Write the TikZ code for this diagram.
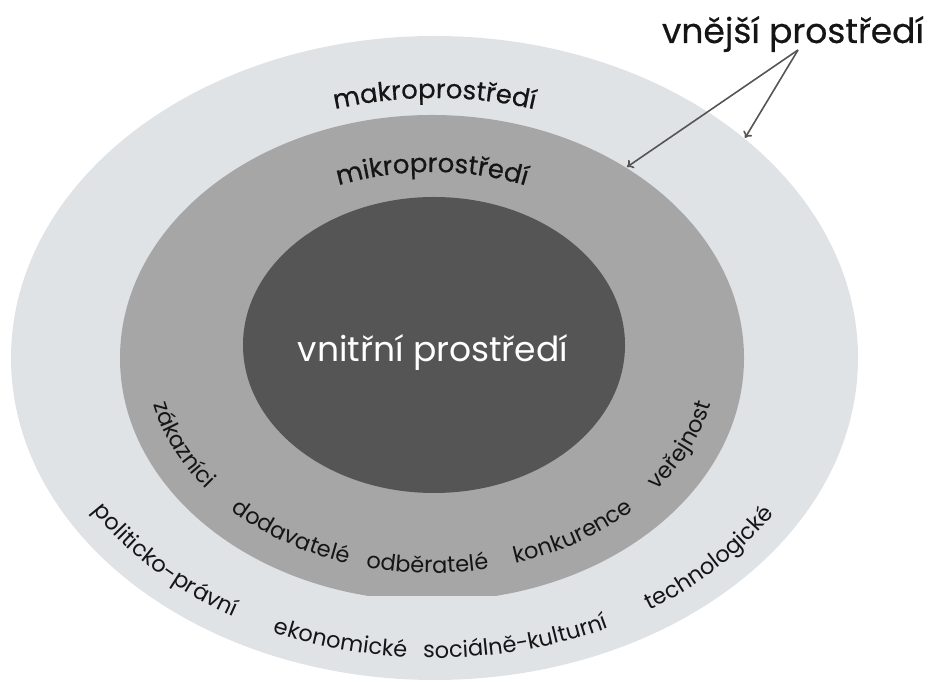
\documentclass[tikz,border=0pt]{standalone}
\usepackage{fontspec}
\setmainfont{Poppins}
\newfontfamily\medfont{Poppins}[FakeBold=0.5]
\usetikzlibrary{decorations.text,arrows.meta,calc}
\definecolor{outerc}{HTML}{E0E3E6}
\definecolor{midc}{HTML}{A6A6A6}
\definecolor{innerc}{HTML}{555555}
\definecolor{arrowc}{HTML}{555555}
\definecolor{txtc}{HTML}{151515}
\newcommand{\ringfont}{\fontsize{22.5}{22.5}\selectfont}
\newcommand{\labfont}{\medfont\fontsize{26}{26}\selectfont}
\tikzset{
  curvedtxt/.style={decorate, decoration={text along path, text align=center, text color=txtc, text={#1}}},
  pointer/.style={draw=arrowc, line width=1.6pt, -{To[length=6pt,width=10pt]}}
}
\begin{document}
\begin{tikzpicture}[x=1pt,y=1pt]
\useasboundingbox (0,0) rectangle (928,682);
\coordinate (co) at (434.5,324);
\coordinate (cm) at (432,324);
\coordinate (ci) at (434,337);
% rings
\fill[outerc] (co) ellipse [x radius=423.5, y radius=322];
\begin{scope}
  \clip (0,86) rectangle (928,682);
  \fill[midc] (cm) ellipse [x radius=312, y radius=243];
\end{scope}
\fill[innerc] (ci) ellipse [x radius=191, y radius=148];
% centre label
\node[anchor=base, text=white, font=\fontsize{34.5}{34.5}\selectfont, inner sep=0pt] (vnitrni) at (433,320) {vnitřní prostředí};
% top labels
\path[curvedtxt={|\labfont|makroprostředí}] ($(co)+(120:342 and 260)$) arc[start angle=120, end angle=60, x radius=342, y radius=260];
\path[curvedtxt={|\labfont|mikroprostředí}] ($(cm)+(125:250 and 186)$) arc[start angle=125, end angle=55, x radius=250, y radius=186];
% micro environment words
\path[curvedtxt={|\ringfont|zákazníci}] ($(cm)+(177:285 and 215)$) arc[start angle=177, end angle=231, x radius=285, y radius=215];
\path[curvedtxt={|\ringfont|dodavatelé}] ($(cm)+(211:285 and 215)$) arc[start angle=211, end angle=265, x radius=285, y radius=215];
\path[curvedtxt={|\ringfont|odběratelé}] ($(cm)+(242:285 and 215)$) arc[start angle=242, end angle=296, x radius=285, y radius=215];
\path[curvedtxt={|\ringfont|konkurence}] ($(cm)+(275:285 and 215)$) arc[start angle=275, end angle=329, x radius=285, y radius=215];
\path[curvedtxt={|\ringfont|veřejnost}] ($(cm)+(309:285 and 215)$) arc[start angle=309, end angle=363, x radius=285, y radius=215];
% macro environment words
\path[curvedtxt={|\ringfont|politicko-právní}] ($(co)+(188:397 and 300)$) arc[start angle=188, end angle=258, x radius=397, y radius=300];
\path[curvedtxt={|\ringfont|ekonomické}] ($(co)+(220:397 and 300)$) arc[start angle=220, end angle=290, x radius=397, y radius=300];
\path[curvedtxt={|\ringfont|sociálně-kulturní}] ($(co)+(248:397 and 300)$) arc[start angle=248, end angle=318, x radius=397, y radius=300];
\path[curvedtxt={|\ringfont|technologické}] ($(co)+(283:397 and 300)$) arc[start angle=283, end angle=353, x radius=397, y radius=300];
% external label and pointers
\node[anchor=base, text=txtc, font=\medfont\fontsize{34.5}{34.5}\selectfont, inner sep=0pt] (vnejsi) at (793,639) {vnější prostředí};
\coordinate (apex) at (798,632);
\coordinate (tmid) at (627,515);
\coordinate (tout) at (745,544);
\draw[pointer] (apex) -- (tmid);
\draw[pointer] (apex) -- (tout);
\end{tikzpicture}
\end{document}
